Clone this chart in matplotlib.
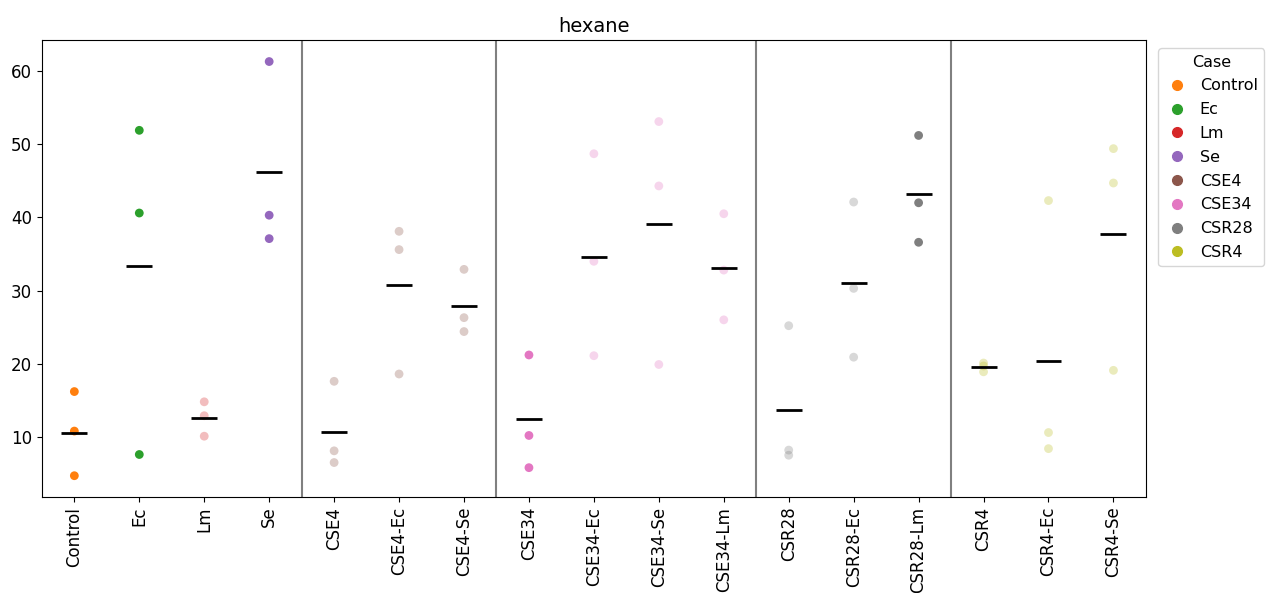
import matplotlib.pyplot as plt
import numpy as np
from matplotlib.lines import Line2D

categories = ["Control", "Ec", "Lm", "Se", "CSE4", "CSE4-Ec", "CSE4-Se",
              "CSE34", "CSE34-Ec", "CSE34-Se", "CSE34-Lm",
              "CSR28", "CSR28-Ec", "CSR28-Lm", "CSR4", "CSR4-Ec", "CSR4-Se"]
values = [
    [16.2, 10.8, 4.7],
    [51.9, 40.6, 7.6],
    [14.8, 12.9, 10.1],
    [61.3, 40.3, 37.1],
    [17.6, 8.1, 6.5],
    [38.1, 35.6, 18.6],
    [32.9, 26.3, 24.4],
    [21.2, 10.2, 5.8],
    [48.7, 34.0, 21.1],
    [53.1, 44.3, 19.9],
    [40.5, 32.8, 26.0],
    [25.2, 8.2, 7.5],
    [42.1, 30.3, 20.9],
    [51.2, 42.0, 36.6],
    [20.1, 19.7, 18.9],
    [42.3, 10.6, 8.4],
    [49.4, 44.7, 19.1],
]
cases = ["Control", "Ec", "Lm", "Se", "CSE4", "CSE34", "CSR28", "CSR4"]
case_colors = ["tab:orange", "tab:green", "tab:red", "tab:purple",
               "tab:brown", "tab:pink", "tab:gray", "tab:olive"]
point_case = ["Control", "Ec", "Lm", "Se", "CSE4", "CSE4", "CSE4",
              "CSE34", "CSE34", "CSE34", "CSE34",
              "CSR28", "CSR28", "CSR28", "CSR4", "CSR4", "CSR4"]
point_alpha = [1, 1, 0.3, 1, 0.3, 0.3, 0.3, 1, 0.3, 0.3, 0.3,
               0.3, 0.3, 1, 0.3, 0.3, 0.3]
separators = [3.5, 6.5, 10.5, 13.5]

color_of = dict(zip(cases, case_colors))

fig, ax = plt.subplots(figsize=(12.69, 5.93), dpi=100)
fig.subplots_adjust(left=0.033, right=0.903, top=0.932, bottom=0.162)

for i, (cat, vals) in enumerate(zip(categories, values)):
    xs = np.full(len(vals), i)
    ax.scatter(xs, vals, s=40, color=color_of[point_case[i]],
               alpha=point_alpha[i], edgecolors="none", zorder=3)
    ax.hlines(np.mean(vals), i - 0.2, i + 0.2, color="black", lw=2, zorder=4)

for s in separators:
    ax.axvline(s, color="gray", lw=1.5)

ax.set_xlim(-0.5, len(categories) - 0.5)
ax.set_ylim(1.8, 64.2)
ax.set_xticks(range(len(categories)))
ax.set_xticklabels(categories, rotation=90, fontsize=12)
ax.tick_params(axis="y", labelsize=12)
ax.set_title("hexane", fontsize=14)

handles = [Line2D([], [], marker="o", ls="", color=c, markersize=7)
           for c in case_colors]
ax.legend(handles, cases, title="Case", loc="upper left",
          bbox_to_anchor=(1.004, 1.0), fontsize=11.5, title_fontsize=11.5,
          handlelength=1.6, handletextpad=0.6, borderpad=0.4,
          labelspacing=0.55)

fig.savefig("out.png")
